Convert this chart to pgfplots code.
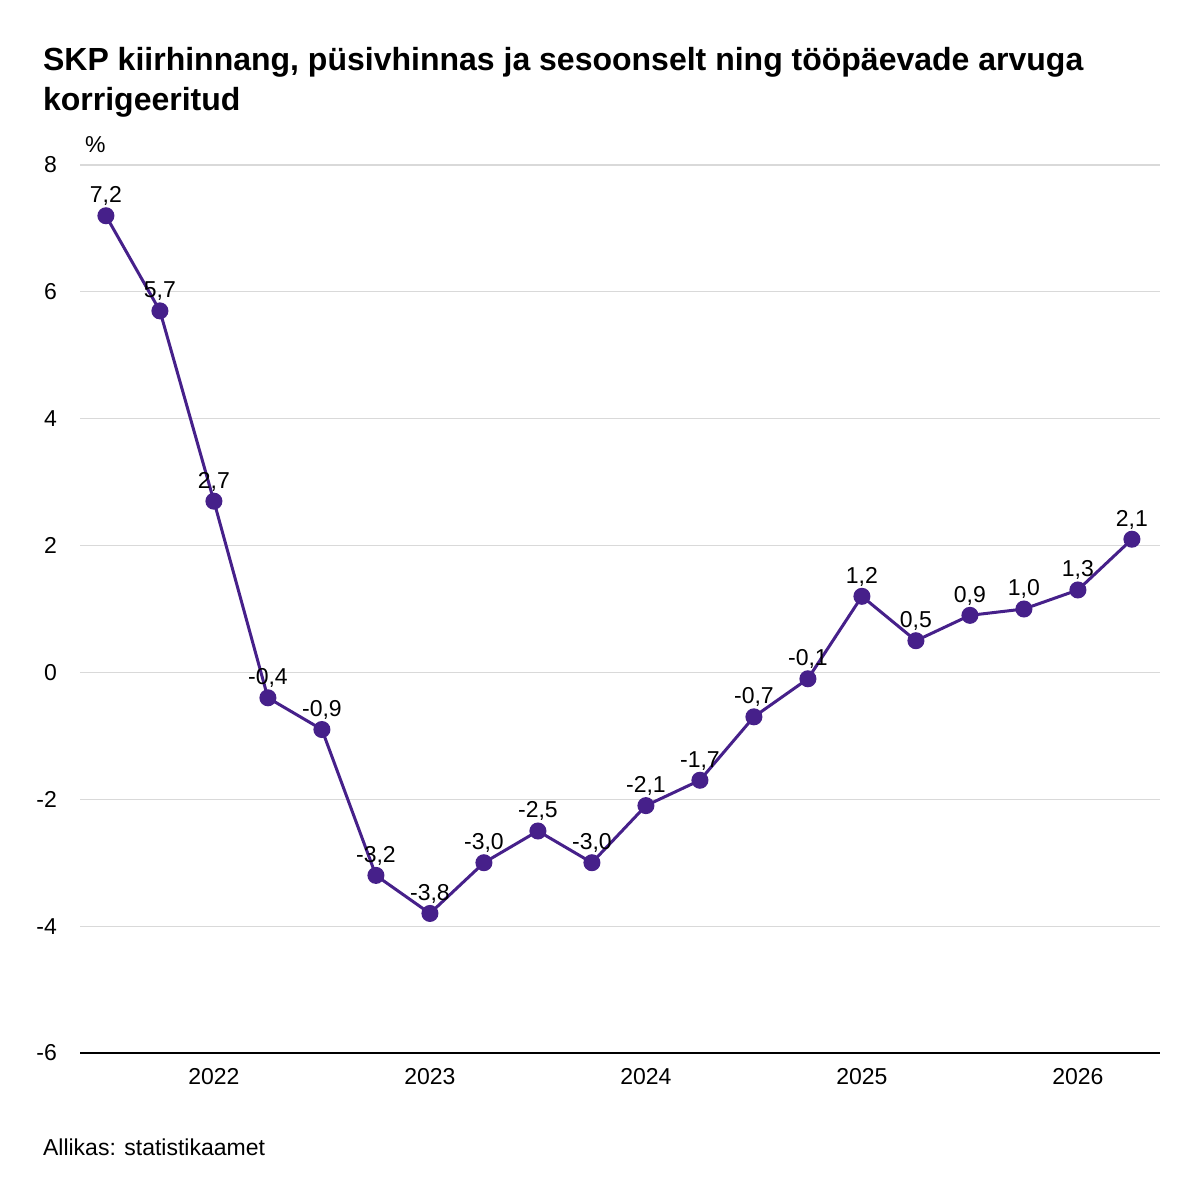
\documentclass[border=0pt]{standalone}
\usepackage{pgfplots}
\pgfplotsset{compat=1.18}
\usepackage{fontspec}
\setmainfont{Liberation Sans}
\definecolor{lc}{HTML}{46208A}
\begin{document}
\begin{tikzpicture}
\path[use as bounding box] (-40pt,-73.5pt) rectangle (560pt,526.5pt);
\begin{axis}[at={(0,0)},anchor=south west,scale only axis,width=540pt,height=444pt,
 xmin=-0.48,xmax=19.52,ymin=-6,ymax=8,
 ytick={-6,-4,...,8},yticklabels={},
 xtick={2,6,10,14,18},xticklabels={2022,2023,2024,2025,2026},
 axis y line*=left, axis x line*=bottom,
 y axis line style={draw=none},
 x axis line style={black,line width=0.8pt,-},
 xtick style={draw=none},ytick style={draw=none},
 ymajorgrids, grid style={gray!30,line width=0.6pt},
 xticklabel style={font=\fontsize{11.5}{13}\selectfont,yshift=-4pt},
 /pgf/number format/assume math mode=true,
 clip=false]
\addplot[lc,line width=1.5pt,mark=*,mark size=3.5pt,mark options={fill=lc},
 nodes near coords,
 nodes near coords style={black,anchor=south,yshift=1pt,font=\fontsize{11.5}{13}\selectfont,
  /pgf/number format/.cd,fixed,fixed zerofill,precision=1,use comma,assume math mode=true},
] coordinates {
(0,7.2)(1,5.7)(2,2.7)(3,-0.4)(4,-0.9)(5,-3.2)(6,-3.8)(7,-3.0)(8,-2.5)(9,-3.0)
(10,-2.1)(11,-1.7)(12,-0.7)(13,-0.1)(14,1.2)(15,0.5)(16,0.9)(17,1.0)(18,1.3)(19,2.1)};
\end{axis}
\foreach \y/\l in {0/-6,63.4/-4,126.9/-2,190.3/0,253.7/2,317.1/4,380.6/6,444/8}{
 \node[anchor=east,font=\fontsize{11.5}{13}\selectfont] at (-8pt,\y pt) {\l};}
\node[anchor=base west,font=\fontsize{11.5}{13}\selectfont] at (-1pt,450pt) {\%};
\node[anchor=base west,font=\bfseries\fontsize{16}{20}\selectfont] at (-22pt,491pt) {SKP kiirhinnang, püsivhinnas ja sesoonselt ning tööpäevade arvuga};
\node[anchor=base west,font=\bfseries\fontsize{16}{20}\selectfont] at (-22pt,471pt) {korrigeeritud};
\node[anchor=base west,font=\fontsize{11.5}{13}\selectfont] at (-22pt,-51pt) {Allikas: statistikaamet};
\end{tikzpicture}
\end{document}
